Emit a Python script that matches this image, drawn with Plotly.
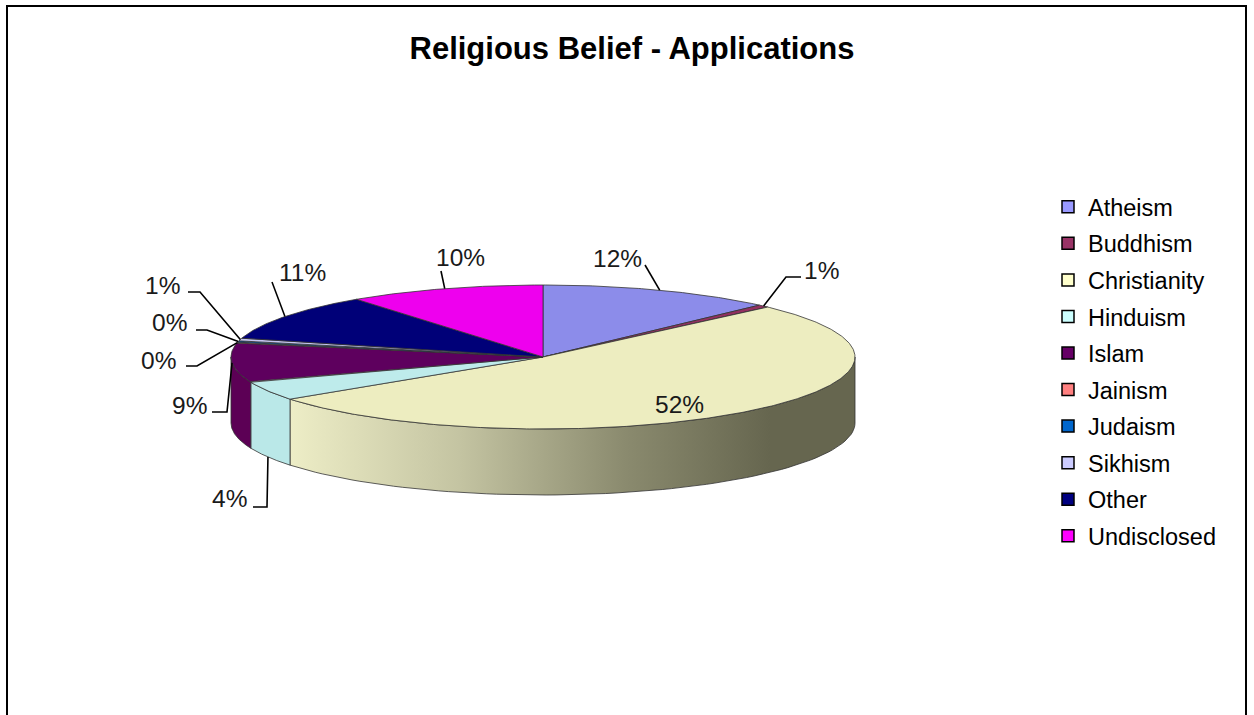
import numpy as np
import plotly.graph_objects as go

# ---------------- data ----------------
categories = ["Atheism", "Buddhism", "Christianity", "Hinduism", "Islam",
              "Jainism", "Judaism", "Sikhism", "Other", "Undisclosed"]
shares = [12.2, 0.6, 52.25, 4.25, 8.8, 0.2, 0.3, 0.6, 10.6, 10.2]

# ---------------- styles ----------------
legend_colors = ["#9999FF", "#993366", "#FFFFCC", "#CCFFFF", "#660066",
                 "#FF8080", "#0066CC", "#CCCCFF", "#000080", "#FF00FF"]
top_colors = ["#8C8CEA", "#933060", "#EDEDC0", "#BEEBEB", "#5E005E",
              "#F07878", "#0060C0", "#C4C4F0", "#000078", "#EE00EE"]
side_colors = ["#7A7AD0", "#802A55", None, "#BAE8E8", "#5C0055",
               "#D86C6C", "#0058B0", "#B0B0DC", "#00006A", "#D000D0"]

FONT = "Arial, Liberation Sans, sans-serif"
W, H = 1254, 715
CX, CY, RX, RY, DEPTH = 543, 357, 312, 72, 66

# label placement (text centre, leader-line points before the anchor, anchor on bottom rim?)
label_pos = [
    dict(t=(617, 258), path=[(645, 265)], bottom=False),
    dict(t=(821, 270), path=[(801, 277), (786, 277)], bottom=False),
    dict(t=(679, 404), path=None, bottom=False),
    dict(t=(229, 498), path=[(253, 507), (267, 507)], bottom=True),
    dict(t=(189, 405), path=[(212, 412), (227, 412)], bottom=False),
    dict(t=(158, 360), path=[(186, 366), (197, 366)], bottom=False),
    dict(t=(169, 322), path=[(196, 330), (207, 330)], bottom=False),
    dict(t=(162, 285), path=[(188, 292), (200, 292)], bottom=False),
    dict(t=(302, 272), path=[(272, 282)], bottom=False),
    dict(t=(460, 257), path=[(441, 271)], bottom=False),
]

total = float(sum(shares))
bounds = np.concatenate([[0.0], np.cumsum(shares)]) / total * 360.0


def rim(theta, dy=0.0):
    t = np.radians(theta)
    return CX + RX * np.sin(t), CY - RY * np.cos(t) + dy


fig = go.Figure()

# legend entries (legend only)
for i, cat in enumerate(categories):
    fig.add_trace(go.Scatter(
        x=[None], y=[None], mode="markers", name=cat, legendgroup=cat,
        marker=dict(symbol="square", size=12, color=legend_colors[i],
                    line=dict(color="black", width=1.5)),
        hoverinfo="skip"))

# side walls (front half only: 90..270 deg)
for i, cat in enumerate(categories):
    lo, hi = max(bounds[i], 90.0), min(bounds[i + 1], 270.0)
    if lo >= hi:
        continue
    th = np.linspace(lo, hi, 80)
    xt, yt = rim(th)
    xb, yb = rim(th[::-1], DEPTH)
    xs = np.concatenate([xt, xb, xt[:1]])
    ys = np.concatenate([yt, yb, yt[:1]])
    kw = {}
    if side_colors[i] is None:
        kw["fillgradient"] = dict(
            type="horizontal", start=291, stop=770,
            colorscale=[[0, "#EDEDC6"], [0.35, "#C4C4A2"], [0.7, "#8A8A6E"], [1, "#66664F"]])
    else:
        kw["fillcolor"] = side_colors[i]
    fig.add_trace(go.Scatter(x=xs, y=ys, mode="lines", fill="toself",
                             line=dict(color="#333333", width=0.8),
                             showlegend=False, hoverinfo="skip", **kw))

# top faces
for i, cat in enumerate(categories):
    a0, a1 = bounds[i], bounds[i + 1]
    n = max(4, int((a1 - a0) * 2))
    th = np.linspace(a0, a1, n)
    xa, ya = rim(th)
    xs = np.concatenate([[CX], xa, [CX]])
    ys = np.concatenate([[CY], ya, [CY]])
    fig.add_trace(go.Scatter(x=xs, y=ys, mode="lines", fill="toself",
                             fillcolor=top_colors[i],
                             line=dict(color="#333333", width=0.8),
                             showlegend=False, hoverinfo="skip"))

# labels + leader lines
for i, cat in enumerate(categories):
    lp = label_pos[i]
    pct = round(shares[i] / total * 100)
    fig.add_annotation(x=lp["t"][0], y=lp["t"][1], text=f"{pct}%", showarrow=False,
                       xref="x", yref="y", xanchor="center", yanchor="middle",
                       font=dict(family=FONT, size=24.5, color="#1a1a1a"))
    if lp["path"]:
        mid = (bounds[i] + bounds[i + 1]) / 2
        ax, ay = rim(mid, DEPTH if lp["bottom"] else 0)
        px = [p[0] for p in lp["path"]] + [ax]
        py = [p[1] for p in lp["path"]] + [ay]
        fig.add_trace(go.Scatter(x=px, y=py, mode="lines",
                                 line=dict(color="black", width=1.6),
                                 showlegend=False, hoverinfo="skip"))

# chart border
fig.add_shape(type="rect", xref="x", yref="y", x0=7, y0=6, x1=1246, y1=740,
              line=dict(color="black", width=2), fillcolor="rgba(0,0,0,0)")

fig.update_layout(
    width=W, height=H, autosize=False,
    margin=dict(l=0, r=0, t=0, b=0),
    paper_bgcolor="white", plot_bgcolor="white",
    title=dict(text="<b>Religious Belief - Applications</b>",
               x=632 / W, y=1 - 48 / H, xanchor="center", yanchor="middle",
               xref="container", yref="container",
               font=dict(family=FONT, size=31, color="black")),
    xaxis=dict(range=[0, W], visible=False, fixedrange=True),
    yaxis=dict(range=[H, 0], visible=False, fixedrange=True),
    showlegend=True,
    legend=dict(x=1048 / W, y=1 - 185 / H, xanchor="left", yanchor="top",
                traceorder="grouped", tracegroupgap=3,
                font=dict(family=FONT, size=23.5, color="black"),
                bgcolor="rgba(0,0,0,0)", borderwidth=0),
)

fig.write_html("out.html")
